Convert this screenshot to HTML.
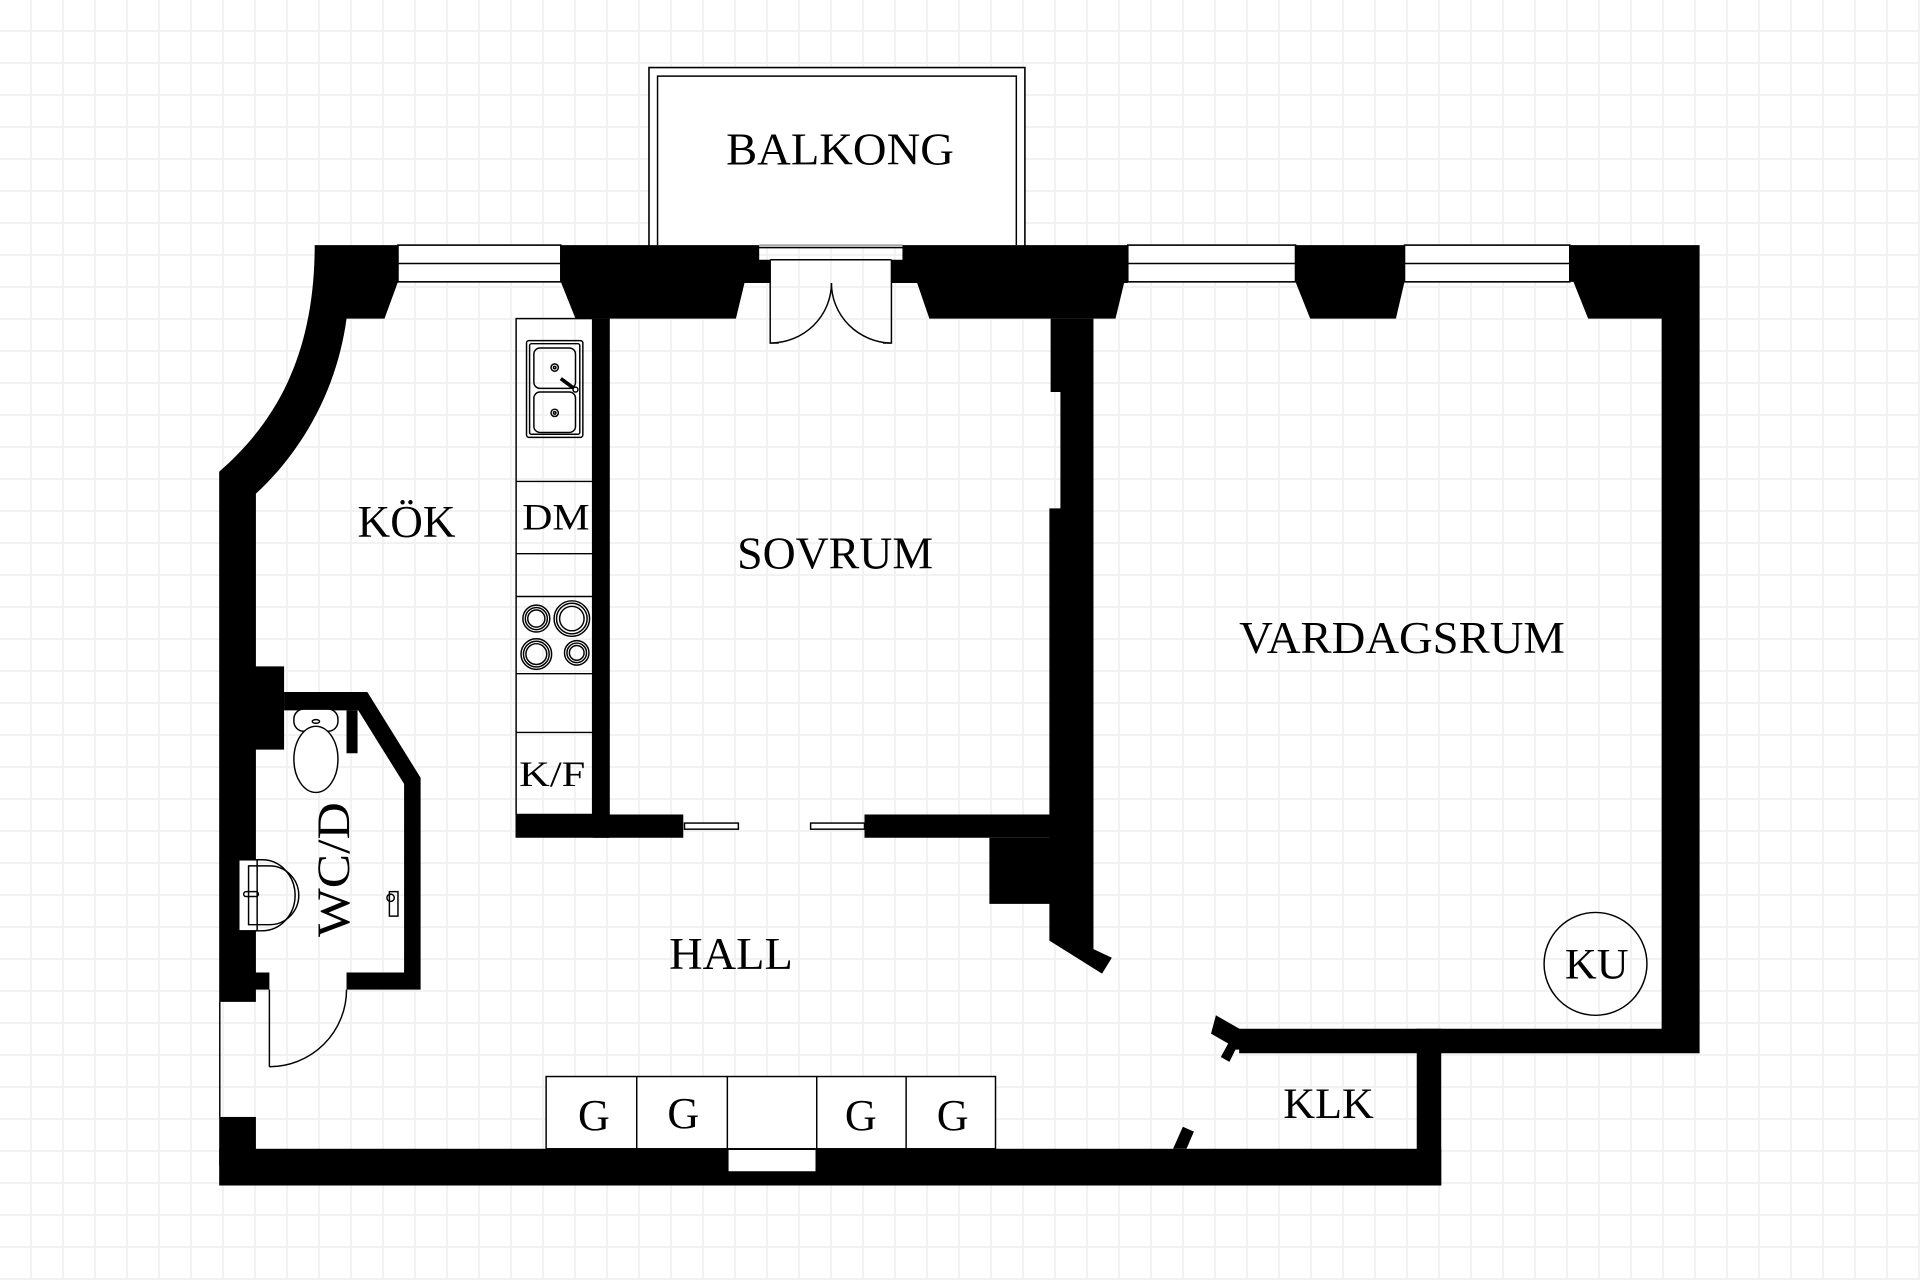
<!DOCTYPE html>
<html><head><meta charset="utf-8">
<style>
html,body{margin:0;padding:0;}
body{width:1920px;height:1280px;overflow:hidden;background-color:#fff;
background-image:linear-gradient(to right,#f2f2f2 2px,transparent 2px),linear-gradient(to bottom,#f2f2f2 2px,transparent 2px);
background-size:32px 32px;background-position:30px 30px;}
svg{position:absolute;left:0;top:0;}
text{font-family:"Liberation Serif",serif;fill:#000;text-anchor:middle;dominant-baseline:central;}
</style></head><body>
<svg width="1920" height="1280" viewBox="0 0 1568 1045" xmlns="http://www.w3.org/2000/svg">
<rect x="530" y="55" width="307" height="147" fill="#fff" stroke="#000" stroke-width="1.3"/>
<path d="M537,200 V62 H830 V200" fill="none" stroke="#000" stroke-width="1.2"/>
<text x="686" y="122" font-size="37" textLength="186" lengthAdjust="spacingAndGlyphs">BALKONG</text>

<g fill="#000">
<path d="M257,200 L325,200 L325,230 L314,260 L283,260 C275,320 245,370 209,403 L209,544 L232,544 L232,612 L209,612 L209,794 L220,794 L220,808 L209,808 L209,818 L179,818 L179,385 C225,345 257,290 257,200 Z"/>
<path d="M458,200 L620,200 L620,212 L629,212 L629,231 L608,231 L601,260 L470,260 L458,230 Z"/>
<path d="M737,200 L921,200 L921,231 L918,231 L911,260 L759,260 L749,231 L728,231 L728,212 L737,212 Z"/>
<path d="M1058,200 L1147,200 L1147,230 L1140,260 L1070,260 L1058,230 Z"/>
<path d="M1282,200 L1388,200 L1388,860 L1012,860 L1012,840 L1357,840 L1357,260 L1297,260 L1285,230 L1282,230 Z"/>
<path d="M993,829 L1014,841 L1014,857 L1009,857 L1004,867 L997,863 L1003,852 L989,844 Z"/>
<rect x="1157" y="840" width="20" height="128"/>
<rect x="179" y="938" width="998" height="30"/>
<rect x="179" y="912" width="30" height="40"/>
<path d="M958,938 L966,920 L975,924 L969,938 Z"/>
<rect x="484" y="260" width="14" height="424"/>
<rect x="421" y="665" width="137" height="19"/>
<rect x="706" y="665" width="152" height="19"/>
<rect x="808" y="684" width="50" height="54"/>
<path d="M858,260 L893,260 L893,775 L908,782 L900,795 L857,768 L857,415 L866,415 L866,320 L858,320 Z"/>
<path d="M232,565 L300,565 L343.5,635 L343.5,808 L283,808 L283,794 L330,794 L330,640 L292.6,580 L232,580 Z"/>
<rect x="283" y="580" width="9" height="35"/>
</g>

<g fill="#fff" stroke="#000" stroke-width="1.3">
<rect x="325" y="200" width="133" height="30"/>
<rect x="921" y="200" width="137" height="30"/>
<rect x="1147" y="200" width="135" height="30"/>
</g>
<g stroke="#000" stroke-width="1.2">
<line x1="325" y1="215" x2="458" y2="215"/>
<line x1="921" y1="215" x2="1058" y2="215"/>
<line x1="1147" y1="215" x2="1282" y2="215"/>
</g>
<g fill="none" stroke="#000" stroke-width="1.2">
<line x1="620" y1="200" x2="737" y2="200" stroke="#999"/>
<line x1="629" y1="212" x2="728" y2="212"/>
<path d="M629,212 V280 H636"/>
<path d="M728,212 V280 H721"/>
<path d="M629,280 A50,49 0 0 0 679,231"/>
<path d="M728,280 A50,49 0 0 1 679,231"/>
<rect x="559" y="672" width="44" height="5" fill="#fff"/>
<rect x="662" y="672" width="44" height="5" fill="#fff"/>
<line x1="220" y1="808" x2="220" y2="871"/>
<path d="M220,871 A63,63 0 0 0 283,808"/>
<line x1="179.5" y1="818" x2="179.5" y2="912"/>
<rect x="421.5" y="260" width="62.5" height="405"/>
<line x1="421.5" y1="393" x2="484" y2="393"/>
<line x1="421.5" y1="452" x2="484" y2="452"/>
<line x1="421.5" y1="487" x2="484" y2="487"/>
<line x1="421.5" y1="550" x2="484" y2="550"/>
<line x1="421.5" y1="598" x2="484" y2="598"/>
<rect x="430" y="278" width="46" height="79" rx="2"/>
<rect x="432.5" y="280.5" width="41" height="74" rx="1.5"/>
<rect x="436" y="284" width="34" height="33" rx="5"/>
<rect x="436" y="320" width="34" height="33" rx="5"/>
<circle cx="453" cy="300" r="3"/><circle cx="453" cy="300" r="1"/>
<circle cx="453" cy="337" r="3"/><circle cx="453" cy="337" r="1"/>
<line x1="458" y1="309" x2="470" y2="318" stroke-width="3"/>
<circle cx="470" cy="318" r="2" fill="#fff"/>
<circle cx="438" cy="505" r="11"/><circle cx="438" cy="505" r="9"/><circle cx="438" cy="505" r="7"/>
<circle cx="467" cy="505" r="14.5"/><circle cx="467" cy="505" r="12.5"/><circle cx="467" cy="505" r="10"/>
<circle cx="438" cy="534" r="12.5"/><circle cx="438" cy="534" r="10.5"/><circle cx="438" cy="534" r="8.5"/>
<circle cx="471" cy="533" r="10"/><circle cx="471" cy="533" r="8"/><circle cx="471" cy="533" r="6"/>
<rect x="446" y="879" width="367" height="59" fill="#fff"/>
<line x1="520" y1="879" x2="520" y2="938"/>
<line x1="594" y1="879" x2="594" y2="957"/>
<line x1="667" y1="879" x2="667" y2="957"/>
<line x1="740" y1="879" x2="740" y2="938"/>
<circle cx="1303" cy="787" r="42"/>
<rect x="240" y="579" width="36" height="18" rx="8" fill="#fff"/>
<ellipse cx="258" cy="620" rx="18" ry="27" fill="#fff"/>
<ellipse cx="258" cy="589" rx="3" ry="1.5"/>
<rect x="195" y="702" width="15" height="58" fill="#fff"/>
<path d="M210,702 H214 A27,29 0 0 1 214,760 H210"/>
<path d="M203,707 L220,707 A22,22 0 0 1 220,755 L203,755 Z"/>
<rect x="199" y="728" width="12" height="4" rx="2"/>
<rect x="318" y="728" width="7" height="20"/>
<circle cx="319" cy="733" r="3"/>
</g>
<rect x="595" y="939" width="71" height="18" fill="#fff"/>
<path d="M594,938 V957 H667 V938" fill="none" stroke="#000" stroke-width="1.2"/>

<text x="332" y="426" font-size="37" textLength="80" lengthAdjust="spacingAndGlyphs">KÖK</text>
<text x="454" y="422" font-size="30" textLength="55" lengthAdjust="spacingAndGlyphs">DM</text>
<text x="451" y="632" font-size="29" textLength="54" lengthAdjust="spacingAndGlyphs">K/F</text>
<text x="682" y="452" font-size="37" textLength="160" lengthAdjust="spacingAndGlyphs">SOVRUM</text>
<text x="1145" y="521" font-size="37" textLength="266" lengthAdjust="spacingAndGlyphs">VARDAGSRUM</text>
<text x="597" y="779" font-size="37" textLength="101" lengthAdjust="spacingAndGlyphs">HALL</text>
<text x="1085" y="902" font-size="35" textLength="74" lengthAdjust="spacingAndGlyphs">KLK</text>
<text x="1304" y="788" font-size="35" textLength="52" lengthAdjust="spacingAndGlyphs">KU</text>
<text x="485" y="911" font-size="36">G</text>
<text x="558" y="909" font-size="36">G</text>
<text x="703" y="911" font-size="36">G</text>
<text x="778" y="911" font-size="36">G</text>
<text x="273" y="710" font-size="38" transform="rotate(-90 273 710)" textLength="110" lengthAdjust="spacingAndGlyphs">WC/D</text>
</svg>
</body></html>
